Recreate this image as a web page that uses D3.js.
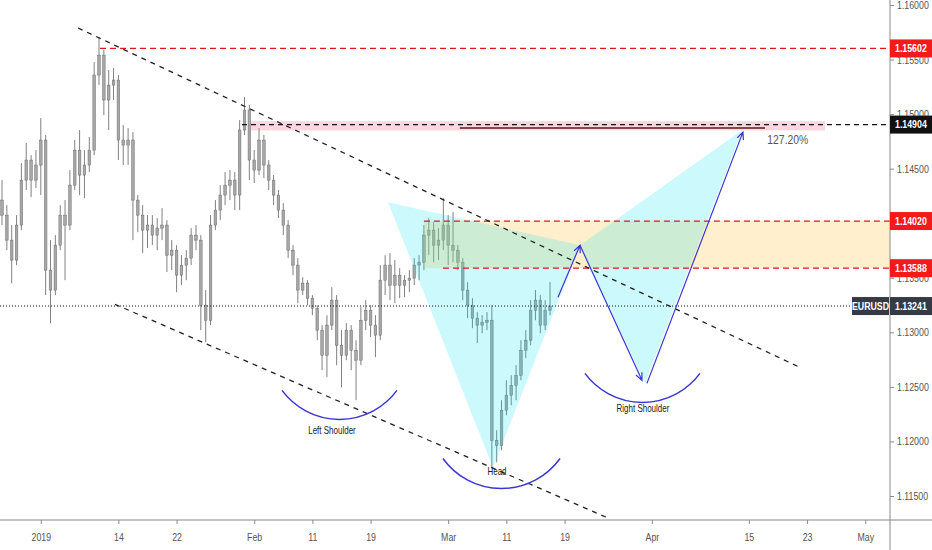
<!DOCTYPE html>
<html><head><meta charset="utf-8">
<script src="https://cdn.jsdelivr.net/npm/d3@7"></script>
<style>
html,body{margin:0;padding:0;background:#fff;}
svg{display:block;font-family:'Liberation Sans',Arial,sans-serif;}
</style></head><body>
<svg id="c" width="932" height="550"></svg>
<script>
// ---- data (half-day bars, EURUSD) ----
const openP = [1.14212,1.14074,1.13845,1.13662,1.13983,1.14395,1.14579,1.14395,1.14533,1.14762,
1.13570,1.13387,1.13799,1.14074,1.13983,1.14349,1.14670,1.14441,1.14533,1.14670,
1.15358,1.15541,1.15129,1.15266,1.15312,1.14762,1.14716,1.14762,1.14212,1.14074,
1.13937,1.13983,1.13891,1.13955,1.13983,1.13707,1.13753,1.13524,1.13616,1.13680,
1.13891,1.13845,1.13249,1.13111,1.13983,1.14120,1.14258,1.14349,1.14395,1.14258,
1.14854,1.15037,1.14579,1.14487,1.14762,1.14533,1.14395,1.14258,1.14120,1.13983,
1.13753,1.13616,1.13387,1.13451,1.13313,1.13221,1.13020,1.12790,1.13066,1.13295,
1.12882,1.12790,1.13020,1.12836,1.12745,1.13111,1.13203,1.13066,1.12974,1.13478,
1.13616,1.13432,1.13524,1.13432,1.13478,1.13497,1.13616,1.13643,1.13891,1.13937,
1.13799,1.13845,1.13983,1.13799,1.13753,1.13643,1.13387,1.13249,1.13130,1.13066,
1.13093,1.13111,1.12011,1.11965,1.12286,1.12424,1.12515,1.12607,1.12836,1.12928,
1.13203,1.13295,1.13066,1.13203];
const highP = [1.14395,1.14166,1.13983,1.14074,1.14551,1.14735,1.14624,1.14670,1.14964,1.14808,
1.13845,1.13891,1.14166,1.14212,1.14487,1.14762,1.14854,1.14670,1.14790,1.15477,
1.15707,1.15587,1.15404,1.15422,1.15358,1.14900,1.14872,1.14835,1.14258,1.14166,
1.14074,1.14074,1.14047,1.14138,1.14028,1.13845,1.13799,1.13707,1.13753,1.13955,
1.13983,1.13891,1.13387,1.14074,1.14212,1.14349,1.14469,1.14487,1.14469,1.14945,
1.15156,1.15083,1.14670,1.14872,1.14808,1.14579,1.14441,1.14304,1.14184,1.14028,
1.13799,1.13680,1.13506,1.13478,1.13341,1.13249,1.13066,1.13157,1.13414,1.13341,
1.13020,1.13084,1.13066,1.12928,1.13231,1.13295,1.13249,1.13157,1.13616,1.13707,
1.13726,1.13662,1.13588,1.13524,1.13570,1.13680,1.13707,1.13983,1.14047,1.14010,
1.13955,1.14230,1.14074,1.14102,1.13799,1.13680,1.13460,1.13313,1.13185,1.13157,
1.13185,1.13249,1.12103,1.12378,1.12561,1.12607,1.12699,1.12928,1.13020,1.13295,
1.13387,1.13341,1.13295,1.13460];
const lowP = [1.13983,1.13753,1.13451,1.13616,1.13937,1.14304,1.14239,1.14322,1.14258,1.13341,
1.13084,1.13341,1.13753,1.13478,1.13937,1.14304,1.14258,1.14230,1.14469,1.14624,
1.15266,1.14991,1.14854,1.15129,1.14579,1.14533,1.14533,1.13845,1.13918,1.13726,
1.13772,1.13799,1.13753,1.13845,1.13552,1.13570,1.13368,1.13432,1.13478,1.13616,
1.13753,1.13020,1.12910,1.13066,1.13937,1.14028,1.14166,1.14212,1.14120,1.14120,
1.14808,1.14395,1.14368,1.14441,1.14414,1.14304,1.14166,1.14047,1.13891,1.13680,
1.13524,1.13267,1.13341,1.13249,1.13157,1.12928,1.12653,1.12589,1.13020,1.12699,
1.12497,1.12745,1.12653,1.12378,1.12699,1.13020,1.12956,1.12772,1.12928,1.13341,
1.13295,1.13267,1.13313,1.13322,1.13368,1.13432,1.13478,1.13570,1.13707,1.13643,
1.13662,1.13753,1.13616,1.13643,1.13570,1.13295,1.13130,1.13038,1.12901,1.12992,
1.13020,1.11763,1.11809,1.11919,1.12240,1.12332,1.12378,1.12561,1.12763,1.12882,
1.13111,1.12992,1.13020,1.13157];
const closeP = [1.14074,1.13845,1.13662,1.13983,1.14395,1.14579,1.14395,1.14533,1.14762,1.13570,
1.13387,1.13799,1.14074,1.13983,1.14349,1.14670,1.14441,1.14533,1.14670,1.15358,
1.15541,1.15129,1.15266,1.15312,1.14762,1.14716,1.14762,1.14212,1.14074,1.13937,
1.13983,1.13891,1.13955,1.13983,1.13707,1.13753,1.13524,1.13616,1.13680,1.13891,
1.13845,1.13249,1.13111,1.13983,1.14120,1.14258,1.14349,1.14395,1.14258,1.14854,
1.15037,1.14579,1.14487,1.14762,1.14533,1.14395,1.14258,1.14120,1.13983,1.13753,
1.13616,1.13387,1.13451,1.13313,1.13221,1.13020,1.12790,1.13066,1.13295,1.12882,
1.12790,1.13020,1.12836,1.12745,1.13111,1.13203,1.13066,1.12974,1.13478,1.13616,
1.13432,1.13524,1.13432,1.13478,1.13497,1.13616,1.13643,1.13891,1.13937,1.13799,
1.13845,1.13983,1.13799,1.13753,1.13643,1.13387,1.13249,1.13130,1.13066,1.13093,
1.13111,1.12011,1.11965,1.12286,1.12424,1.12515,1.12607,1.12836,1.12928,1.13203,
1.13295,1.13066,1.13203,1.13241];

// time axis: trading-day index (Dec 27 2018 = 0)
const tickDays   = [4,12,18,26,32,38,46,52,58,67,77,83,89];
const tickLabels = ["2019","14","22","Feb","11","19","Mar","11","19","Apr","15","23","May"];
const priceTicks = [1.115,1.12,1.125,1.13,1.135,1.145,1.15,1.155,1.16];

// levels
const lastPrice = 1.13241;
const levelHigh = 1.15602, levelFib = 1.14904, zoneTop = 1.14020, zoneBot = 1.13588;

// annotations, as [day, price]
const upperTrend = [[7.84,1.15789],[82.47,1.12670]];
const lowerTrend = [[11.65,1.13257],[62.37,1.11303]];
const patternXAB = [[39.79,1.14193],[50.62,1.11761],[59.59,1.13798]];
const patternBCD = [[59.59,1.13798],[66.29,1.12532],[76.29,1.14853]];
const arrows = [[[57.32,1.13321],[59.59,1.13798]],[[59.59,1.13798],[65.98,1.12560]],[[66.49,1.12532],[76.39,1.14835]]];
const arcs = [ // [leftDay, rightDay, endPrice, bottomPrice]
  [28.87,40.72,1.12468,1.12202],
  [45.46,57.53,1.11844,1.11569],
  [60.10,71.96,1.12624,1.12358]];
const arcLabels = [["Left Shoulder",34.02,1.12101],["Head",51.03,1.11725],["Right Shoulder",66.08,1.12303]];

// ---- scales ----
const x = d3.scaleLinear().domain([0,91.55]).range([2,890]);
const y = d3.scaleLinear().domain([1.115,1.16]).range([496,5]);
const svg = d3.select("#c");
const bars = d3.range(openP.length).map(i=>({d:i/2,o:openP[i],h:highP[i],l:lowP[i],c:closeP[i]}));

// candles
const cg = svg.append("g");
cg.selectAll("line").data(bars).join("line")
  .attr("x1",b=>x(b.d)).attr("x2",b=>x(b.d))
  .attr("y1",b=>y(b.h)).attr("y2",b=>y(b.l))
  .attr("stroke","#808080").attr("stroke-width",1);
cg.selectAll("rect").data(bars).join("rect")
  .attr("x",b=>x(b.d)-1.3).attr("width",2.6)
  .attr("y",b=>y(Math.max(b.o,b.c)))
  .attr("height",b=>Math.max(1,Math.abs(y(b.o)-y(b.c))))
  .attr("fill","#a8a8a8").attr("stroke","#6c6c6c").attr("stroke-width",0.5);

// zone band (yellow)
svg.append("rect").attr("x",x(43.5)).attr("width",x(91.55)-x(43.5))
  .attr("y",y(zoneTop)).attr("height",y(zoneBot)-y(zoneTop))
  .attr("fill","rgba(255,196,70,0.27)");
// pattern triangles (cyan)
const poly = pts=>pts.map(p=>[x(p[0]),y(p[1])].join(",")).join(" ");
[patternXAB,patternBCD].forEach(p=>svg.append("polygon").attr("points",poly(p)).attr("fill","rgba(0,225,238,0.2)"));

// fib band (pink) and 127.2 line
svg.append("rect").attr("x",x(25.57)).attr("width",x(84.85)-x(25.57))
  .attr("y",y(1.14935)).attr("height",y(1.14850)-y(1.14935)).attr("fill","rgba(240,120,150,0.3)");
svg.append("line").attr("x1",x(47.2)).attr("x2",x(78.66)).attr("y1",y(1.14872)).attr("y2",y(1.14872))
  .attr("stroke","#5a1a1a").attr("stroke-width",1.5);
svg.append("text").attr("x",x(78.9)).attr("y",y(1.14770)).attr("dy","0.35em")
  .attr("font-size",13).attr("fill","#555").text("127.20%");

// horizontal levels
function hline(p,d0,color,dash,w){svg.append("line").attr("x1",x(d0)).attr("x2",890).attr("y1",y(p)).attr("y2",y(p))
  .attr("stroke",color).attr("stroke-dasharray",dash).attr("stroke-width",w);}
hline(levelHigh,10.1,"#e0161b","6,4",1.3);
hline(levelFib,24.74,"#111","5,4",1.4);
hline(zoneTop,43.5,"#e0161b","6,4",1.3);
hline(zoneBot,45.46,"#e0161b","6,4",1.3);
svg.append("line").attr("x1",0).attr("x2",852).attr("y1",y(lastPrice)).attr("y2",y(lastPrice))
  .attr("stroke","#111").attr("stroke-dasharray","1,2").attr("stroke-width",1);

// trend lines
[upperTrend,lowerTrend].forEach(t=>svg.append("line")
  .attr("x1",x(t[0][0])).attr("y1",y(t[0][1])).attr("x2",x(t[1][0])).attr("y2",y(t[1][1]))
  .attr("stroke","#222").attr("stroke-dasharray","5,5").attr("stroke-width",1.3));

// arrows
const blue="#3a36d6";
arrows.forEach(a=>{
  const x1=x(a[0][0]),y1=y(a[0][1]),x2=x(a[1][0]),y2=y(a[1][1]);
  const ang=Math.atan2(y2-y1,x2-x1),L=8,s=0.42;
  svg.append("path").attr("d",`M${x1},${y1}L${x2},${y2}M${x2-L*Math.cos(ang-s)},${y2-L*Math.sin(ang-s)}L${x2},${y2}L${x2-L*Math.cos(ang+s)},${y2-L*Math.sin(ang+s)}`)
    .attr("fill","none").attr("stroke",blue).attr("stroke-width",1.2);
});
// arcs
arcs.forEach(a=>{
  const xl=x(a[0]),xr=x(a[1]),ye=y(a[2]),yb=y(a[3]);
  const w=(xr-xl)/2,s=yb-ye,R=(w*w+s*s)/(2*s);
  svg.append("path").attr("d",`M${xl},${ye}A${R},${R} 0 0 0 ${xr},${ye}`)
    .attr("fill","none").attr("stroke",blue).attr("stroke-width",1.5);
});
arcLabels.forEach(l=>svg.append("text").attr("x",x(l[1])).attr("y",y(l[2])).attr("dy","0.35em")
  .attr("text-anchor","middle").attr("font-size",10).attr("fill","#1a1a1a").text(l[0]));

// axes
svg.append("line").attr("x1",890).attr("x2",890).attr("y1",0).attr("y2",550).attr("stroke","#8a8a8a");
svg.append("line").attr("x1",0).attr("x2",932).attr("y1",520).attr("y2",520).attr("stroke","#8a8a8a");
const ax = svg.append("g").attr("transform","translate(0,520)")
  .call(d3.axisBottom(x).tickValues(tickDays).tickFormat((d,i)=>tickLabels[i]).tickSize(4).tickPadding(9));
ax.attr("font-family",null).attr("font-size",11);
ax.select(".domain").remove();
ax.selectAll("line").attr("stroke","#8a8a8a");
ax.selectAll("text").attr("fill","#555");
const ay = svg.append("g").attr("transform","translate(890,0)")
  .call(d3.axisRight(y).tickValues(priceTicks).tickFormat(d3.format(".5f")).tickSize(4).tickPadding(3));
ay.attr("font-family",null).attr("font-size",11);
ay.select(".domain").remove();
ay.selectAll("line").attr("stroke","#8a8a8a");
ay.selectAll("text").attr("fill","#555");

// badges
function badge(p,label,bg){
  svg.append("rect").attr("x",890).attr("y",y(p)-9).attr("width",42).attr("height",18).attr("fill",bg);
  svg.append("text").attr("x",895).attr("y",y(p)).attr("dy","0.35em").attr("fill","#fff")
    .attr("font-size",11).attr("font-weight","bold").text(label);
}
badge(levelHigh,"1.15602","#f21a1a");
badge(levelFib,"1.14904","#111");
badge(zoneTop,"1.14020","#f21a1a");
badge(zoneBot,"1.13588","#f21a1a");
badge(lastPrice,"1.13241","#363a45");
svg.append("rect").attr("x",852).attr("y",y(lastPrice)-9).attr("width",37).attr("height",18).attr("fill","#363a45");
svg.append("text").attr("x",870.5).attr("y",y(lastPrice)).attr("dy","0.35em").attr("text-anchor","middle")
  .attr("fill","#fff").attr("font-size",11).attr("font-weight","bold").text("EURUSD");

// the reference typeface is condensed: squeeze every text horizontally about its anchor
svg.selectAll("text").each(function(){
  const t=d3.select(this);
  const xx=+t.attr("x")||0, yy=+t.attr("y")||0;
  t.attr("x",0).attr("y",0).attr("transform",`translate(${xx},${yy}) scale(0.8,1)`);
});
</script></body></html>
